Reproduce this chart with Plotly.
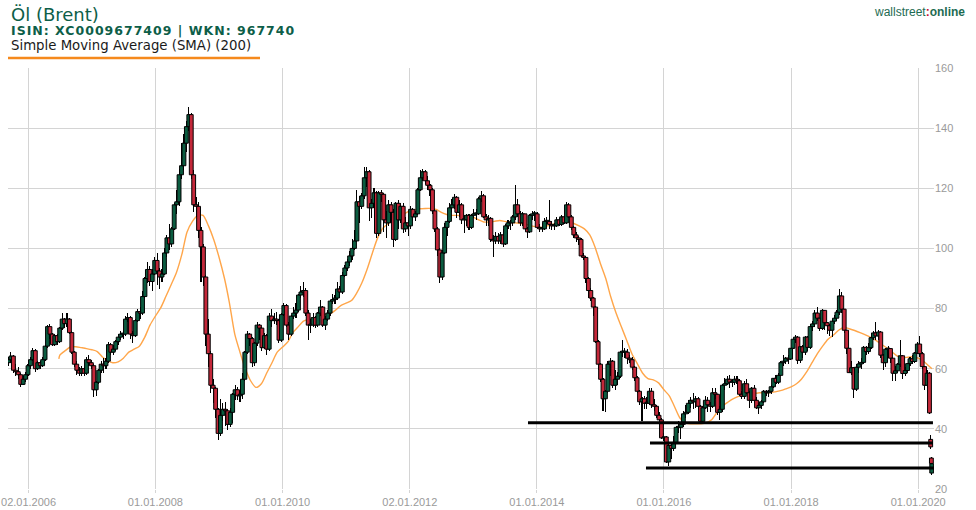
import pandas as pd
import plotly.graph_objects as go

# ---------------- data (Brent, 2-week candles, USD) ----------------
first_open = 62.0
candle_start = "2005-09-09"   # close date of the first 2-week candle

close_2005 = [63.0, 64.2, 59.5, 59.0, 58.0, 54.8, 56.5, 58.0, 61.0]
high_2005 = [64.0, 65.5, 64.5, 61.5, 60.5, 58.5, 57.5, 59.0, 61.5]
low_2005 = [61.0, 62.0, 58.5, 57.5, 56.5, 54.0, 54.5, 55.5, 57.5]

close_2006 = [63.0, 66.0, 60.0, 62.0, 61.0, 63.0, 67.5, 74.0, 71.5, 68.0, 71.0, 69.0, 73.5,
              76.5, 75.0, 76.5, 72.0, 65.5, 61.5, 59.5, 58.5, 60.0, 58.5, 63.0, 62.0, 61.0]
high_2006 = [64.0, 67.0, 66.5, 62.5, 62.5, 64.0, 68.0, 74.5, 75.0, 72.0, 71.5, 71.5, 74.0,
             78.5, 77.0, 78.5, 77.0, 72.5, 66.0, 62.5, 60.5, 61.0, 60.5, 64.0, 64.5, 63.0]
low_2006 = [60.0, 62.5, 59.0, 59.5, 60.0, 60.5, 62.5, 67.0, 70.0, 67.5, 67.5, 68.0, 68.5,
            73.0, 73.5, 74.0, 71.5, 65.0, 60.5, 58.0, 57.5, 57.5, 57.5, 58.0, 61.0, 60.0]

close_2007 = [53.0, 55.5, 59.5, 61.5, 61.0, 62.5, 68.0, 65.5, 66.5, 69.0, 70.5, 71.5, 71.5,
              76.5, 77.0, 71.5, 71.0, 76.0, 79.0, 78.5, 84.0, 90.0, 93.0, 89.0, 91.5, 96.0]
high_2007 = [61.5, 56.0, 60.0, 62.5, 63.5, 63.5, 69.0, 68.5, 68.0, 69.5, 71.5, 72.5, 72.5,
             77.5, 78.5, 77.5, 72.5, 76.5, 80.0, 80.5, 86.0, 90.5, 95.5, 94.0, 93.0, 97.0]
low_2007 = [50.5, 51.0, 55.0, 58.5, 58.5, 60.0, 62.0, 64.5, 64.5, 66.0, 68.0, 69.5, 70.0,
            71.0, 75.5, 70.0, 68.5, 70.5, 75.5, 76.5, 78.0, 83.5, 88.5, 87.5, 86.0, 91.0]

close_2008 = [92.5, 90.5, 91.5, 98.5, 103.5, 101.5, 106.5, 114.5, 115.5, 124.5, 127.5, 135.0, 140.5,
              144.5, 124.5, 114.5, 114.0, 106.0, 100.5, 90.5, 71.5, 65.0, 54.5, 53.5, 46.5, 38.5]
high_2008 = [98.5, 93.5, 93.0, 100.0, 104.5, 108.0, 107.0, 115.0, 119.5, 126.5, 135.0, 138.0, 142.5,
             147.0, 145.0, 126.0, 117.0, 115.5, 107.0, 101.5, 91.0, 76.5, 66.0, 56.5, 54.0, 47.0]
low_2008 = [88.0, 86.5, 89.0, 91.0, 97.0, 99.5, 100.5, 106.0, 111.5, 114.0, 123.0, 126.0, 132.0,
            139.0, 123.0, 112.0, 110.5, 103.5, 89.0, 87.5, 67.5, 60.5, 52.0, 48.5, 43.5, 36.2]

close_2009 = [44.5, 46.5, 46.0, 41.5, 45.5, 51.5, 53.0, 51.0, 51.5, 56.5, 65.5, 71.5, 70.0,
              62.0, 68.5, 74.5, 73.5, 67.0, 71.0, 66.5, 77.5, 76.0, 76.5, 76.0, 69.5, 78.0]
high_2009 = [50.0, 48.5, 49.0, 46.5, 47.0, 52.0, 54.5, 54.0, 52.5, 58.5, 66.0, 72.5, 72.0,
             70.5, 69.0, 75.5, 75.0, 74.0, 72.0, 71.5, 78.5, 80.0, 78.5, 79.0, 76.5, 78.5]
low_2009 = [37.5, 42.5, 41.0, 39.5, 40.5, 42.0, 49.5, 49.5, 49.0, 50.0, 56.0, 65.0, 67.5,
            60.5, 61.0, 67.5, 69.5, 66.0, 66.5, 64.5, 66.0, 74.0, 75.0, 74.5, 68.5, 69.0]

close_2010 = [81.0, 74.5, 71.5, 77.5, 78.5, 79.5, 84.5, 85.5, 86.0, 78.5, 74.5, 74.5, 77.0,
              74.5, 78.5, 80.5, 74.5, 76.5, 78.5, 82.5, 83.0, 83.5, 86.5, 85.5, 91.0, 93.5]
high_2010 = [82.0, 81.5, 75.5, 78.0, 80.5, 82.0, 85.0, 87.5, 89.0, 87.0, 79.5, 76.5, 78.5,
             77.5, 79.0, 83.0, 81.0, 77.5, 79.5, 83.0, 85.0, 84.5, 89.0, 87.5, 92.0, 94.5]
low_2010 = [77.5, 74.0, 69.5, 71.0, 76.5, 77.0, 79.0, 83.5, 84.0, 77.5, 69.5, 72.0, 74.0,
            73.5, 74.0, 77.5, 74.0, 73.0, 76.0, 77.5, 81.5, 81.5, 83.0, 83.5, 85.0, 90.5]

close_2011 = [95.5, 97.5, 100.0, 102.5, 115.5, 114.0, 117.5, 123.5, 125.5, 113.5, 115.0, 118.5, 105.0,
              118.5, 118.0, 109.5, 108.5, 114.5, 112.0, 103.0, 115.0, 109.5, 114.0, 106.5, 108.5, 107.5]
high_2011 = [96.5, 99.0, 103.0, 106.0, 119.5, 117.5, 118.5, 127.0, 127.0, 126.0, 116.5, 120.0, 119.0,
             119.0, 119.5, 118.5, 112.5, 116.0, 115.5, 113.0, 115.5, 116.0, 115.0, 115.0, 110.5, 109.5]
low_2011 = [92.5, 94.0, 96.0, 99.5, 102.0, 108.5, 113.0, 116.5, 120.5, 109.0, 110.0, 113.5, 103.5,
            104.0, 115.5, 105.5, 103.5, 107.5, 108.5, 100.5, 102.5, 106.5, 108.5, 105.0, 105.5, 104.0]

close_2012 = [113.0, 110.5, 111.5, 119.5, 123.5, 125.5, 122.5, 121.0, 119.5, 112.5, 106.5, 99.5, 90.5,
              98.5, 107.0, 109.0, 113.5, 114.5, 117.0, 112.0, 114.5, 109.5, 109.5, 111.0, 107.0, 111.0]
high_2012 = [114.0, 113.5, 112.5, 120.0, 126.0, 126.5, 126.0, 124.0, 121.5, 120.0, 113.0, 107.0, 100.0,
             99.5, 108.5, 109.5, 115.0, 116.5, 118.0, 117.5, 116.0, 115.0, 111.0, 111.5, 111.5, 111.5]
low_2012 = [106.5, 109.0, 109.0, 111.0, 119.0, 122.5, 121.5, 119.5, 117.5, 111.5, 105.5, 97.5, 88.5,
            89.5, 98.0, 104.0, 108.5, 112.0, 113.0, 110.0, 110.5, 108.0, 105.0, 107.5, 106.0, 106.5]

close_2013 = [111.5, 111.5, 116.5, 117.5, 110.5, 109.5, 110.0, 103.0, 102.5, 104.0, 102.5, 104.5, 101.5,
              107.5, 108.5, 108.5, 110.5, 114.5, 111.5, 108.5, 111.5, 106.5, 105.5, 111.0, 111.5, 111.5]
high_2013 = [113.0, 113.0, 117.0, 119.0, 118.0, 111.5, 111.0, 110.5, 104.5, 105.5, 105.0, 105.5, 106.5,
             108.0, 109.5, 109.5, 111.0, 121.0, 116.5, 112.5, 112.0, 111.5, 107.0, 111.5, 112.5, 112.5]
low_2013 = [110.0, 109.5, 111.0, 115.5, 110.0, 107.5, 107.5, 102.0, 97.0, 101.5, 101.5, 101.5, 100.5,
            101.0, 106.5, 106.0, 107.5, 109.5, 110.5, 107.5, 107.5, 106.0, 103.5, 105.0, 109.5, 109.0]

close_2014 = [107.0, 106.5, 106.5, 109.0, 109.0, 108.0, 107.5, 107.5, 109.5, 108.0, 110.5, 108.5, 114.5,
              110.5, 107.0, 104.5, 103.5, 103.0, 97.5, 97.0, 90.0, 86.0, 83.5, 80.5, 69.0, 61.5]
high_2014 = [112.0, 108.0, 108.5, 110.0, 110.5, 116.0, 109.0, 108.5, 110.5, 110.0, 111.0, 110.5, 115.5,
             115.0, 111.0, 107.5, 105.5, 104.0, 103.5, 98.5, 97.5, 90.5, 87.0, 84.0, 81.0, 69.5]
low_2014 = [106.5, 105.5, 105.5, 106.0, 108.0, 106.5, 106.0, 106.0, 107.0, 107.5, 107.5, 108.0, 108.0,
            110.0, 106.0, 103.5, 102.0, 101.0, 97.0, 96.0, 88.5, 83.5, 82.5, 77.5, 68.5, 59.5]

close_2015 = [56.5, 50.0, 52.5, 61.5, 62.5, 54.5, 56.5, 57.5, 65.5, 65.5, 65.5, 63.5, 63.0,
              60.5, 57.0, 52.5, 49.0, 50.0, 48.5, 48.5, 52.5, 48.0, 47.5, 44.5, 43.0, 37.0]
high_2015 = [62.0, 57.0, 53.0, 62.5, 63.5, 63.0, 59.5, 59.0, 66.0, 69.5, 67.0, 66.5, 64.5,
             64.0, 61.0, 57.5, 53.0, 50.5, 51.0, 50.5, 53.5, 53.5, 50.0, 48.0, 45.5, 43.5]
low_2015 = [55.5, 46.0, 45.5, 52.0, 57.5, 53.5, 53.0, 54.5, 57.0, 64.0, 63.5, 61.5, 62.0,
            59.5, 56.0, 52.0, 48.0, 42.5, 46.5, 46.5, 48.0, 47.0, 46.0, 43.5, 42.0, 36.5]

close_2016 = [37.3, 29.0, 34.5, 33.5, 35.5, 40.5, 40.5, 41.5, 45.0, 45.5, 48.5, 49.5, 49.0, 50.0,
              47.5, 42.5, 47.0, 49.5, 48.0, 47.5, 52.0, 51.5, 45.5, 46.5, 54.5, 55.0, 56.5]
high_2016 = [38.5, 37.5, 35.5, 35.5, 37.5, 41.0, 42.5, 42.0, 46.0, 48.0, 49.5, 50.5, 52.0, 51.0,
             50.5, 48.0, 47.5, 51.0, 50.5, 49.0, 53.5, 53.5, 51.5, 47.5, 55.0, 57.0, 57.5]
low_2016 = [36.0, 28.5, 27.8, 30.0, 32.5, 35.0, 38.5, 36.5, 40.5, 43.5, 45.0, 47.0, 46.5, 47.0,
            46.5, 41.5, 42.0, 46.5, 45.5, 45.5, 47.0, 50.0, 44.5, 43.0, 45.5, 53.0, 54.5]

close_2017 = [55.5, 55.5, 56.5, 56.0, 51.5, 50.8, 55.0, 52.0, 49.5, 53.5, 49.5, 47.0, 47.8,
              49.0, 52.5, 52.0, 52.5, 54.0, 56.8, 55.5, 57.8, 62.0, 62.5, 63.5, 63.2, 66.8]
high_2017 = [58.0, 56.5, 57.5, 57.5, 56.5, 52.5, 56.0, 56.5, 52.5, 54.0, 54.5, 50.5, 48.5,
             49.5, 52.8, 53.0, 53.0, 54.5, 57.0, 58.0, 58.5, 62.5, 64.5, 64.0, 64.5, 67.0]
low_2017 = [53.5, 54.0, 54.5, 55.0, 51.0, 50.0, 50.0, 51.5, 47.0, 48.5, 48.5, 46.5, 44.8,
            46.5, 48.5, 51.0, 50.5, 51.5, 53.5, 55.0, 55.0, 57.5, 61.0, 61.5, 61.5, 63.0]

close_2018 = [69.8, 70.5, 62.8, 67.3, 65.5, 70.5, 67.1, 74.0, 74.9, 78.5, 76.8, 73.4, 79.4,
              75.3, 74.3, 72.8, 75.8, 76.8, 78.8, 84.2, 79.8, 72.8, 66.8, 58.7, 60.3, 53.2]
high_2018 = [70.0, 71.3, 70.8, 67.6, 68.0, 71.0, 71.0, 74.8, 76.0, 79.5, 80.5, 77.0, 79.8,
             79.5, 75.5, 75.0, 76.2, 78.0, 79.5, 86.5, 85.5, 80.0, 73.0, 67.0, 62.5, 60.5]
low_2018 = [66.5, 68.5, 61.5, 62.0, 63.5, 64.5, 66.0, 66.5, 72.5, 74.0, 76.0, 72.5, 73.0,
            73.0, 71.5, 71.0, 70.5, 75.0, 76.0, 78.0, 78.5, 72.0, 65.0, 58.5, 58.0, 50.2]

close_2019 = [60.5, 61.6, 62.1, 67.1, 65.7, 67.0, 70.3, 71.9, 70.9, 72.2, 64.5, 62.0, 66.5,
              66.7, 63.5, 58.5, 59.3, 61.5, 64.3, 58.4, 59.4, 61.7, 63.3, 62.4, 65.2, 68.2]
high_2019 = [61.5, 62.5, 63.5, 67.5, 67.5, 68.5, 70.5, 72.5, 75.5, 73.0, 72.5, 65.0, 67.0,
             67.5, 67.0, 64.0, 61.0, 62.0, 69.5, 64.5, 60.5, 62.0, 63.8, 64.5, 65.5, 68.9]
low_2019 = [52.5, 58.5, 60.0, 61.5, 64.5, 65.0, 66.5, 69.5, 69.5, 69.5, 63.5, 59.5, 60.5,
            63.5, 62.0, 55.9, 56.0, 58.5, 60.5, 56.5, 57.5, 58.5, 61.0, 61.5, 61.8, 64.8]

close_2020 = [65.0, 60.7, 54.5, 58.5, 45.3]
high_2020 = [71.0, 65.5, 61.0, 59.5, 59.0]
low_2020 = [64.0, 60.0, 53.0, 53.5, 45.0]

# last sessions (March 2020, gap-down candles)
tail_dates = ["2020-03-13", "2020-03-17", "2020-03-19"]
tail_open = [36.5, 30.3, 25.3]
tail_high = [37.8, 30.8, 28.8]
tail_low = [33.3, 28.3, 24.6]
tail_close = [34.0, 28.5, 28.4]

# Simple Moving Average (200)
sma_dates = ["2006-06-25"] + [d.strftime("%Y-%m-%d") for d in pd.date_range("2006-07-01", "2020-03-01", freq="MS")] + ["2020-03-20"]
sma_values = [
    63.3,
    64.5, 66.0, 67.3, 67.3, 67.0, 66.7,
    66.3, 65.7, 64.0, 62.7, 62.0, 62.3, 63.5, 65.5, 66.5, 67.5, 70.5, 74.5,
    77.5, 80.3, 84.0, 88.0, 92.0, 98.0, 105.5, 109.0, 111.0, 111.0, 107.5, 103.0,
    97.0, 90.0, 82.0, 71.5, 65.5, 60.0, 56.0, 53.8, 55.0, 58.5, 62.0, 65.5,
    67.2, 69.0, 72.0, 74.0, 75.8, 76.5, 77.0, 77.5, 78.0, 78.3, 79.5, 81.0,
    81.8, 82.7, 85.0, 88.5, 93.0, 98.5, 103.5, 106.8, 108.3, 109.3, 110.3, 111.5,
    112.5, 112.8, 113.2, 113.3, 113.3, 113.0, 112.0, 111.3, 111.0, 111.0, 110.8, 110.5,
    110.3, 109.5, 108.8, 108.8, 109.0, 109.3, 109.0, 108.7, 108.5, 108.3, 108.0, 107.5,
    107.2, 107.0, 107.5, 108.0, 108.5, 108.7, 108.7, 108.3, 107.5, 106.5, 104.5, 100.5,
    95.0, 90.0, 84.0, 78.5, 74.0, 69.5, 65.0, 61.7, 58.5, 56.7, 56.3, 55.3,
    53.0, 51.0, 47.5, 43.7, 42.0, 41.7, 41.7, 41.7, 42.0, 43.0, 45.5, 47.5,
    48.8, 50.0, 50.7, 51.3, 51.7, 51.7, 52.0, 52.0, 52.0, 52.3, 52.7, 53.3,
    54.0, 55.0, 56.5, 59.0, 62.0, 65.0, 67.5, 69.8, 71.2, 72.8, 73.7, 73.3,
    72.7, 72.0, 71.3, 70.5, 69.5, 68.3, 67.0, 65.7, 64.3, 63.7, 63.8, 64.0,
    63.5, 62.5, 61.0,
    60.0,
]

# horizontal support lines drawn on the chart
support_levels = [42.0, 35.3, 27.0]
support_from = ["2013-11-11", "2015-10-13", "2015-09-20"]
support_to = ["2020-03-26", "2020-03-26", "2020-04-01"]

x_ticks = ["2006-01-02", "2008-01-01", "2010-01-01", "2012-01-02",
           "2014-01-01", "2016-01-01", "2018-01-01", "2020-01-01"]
x_ticktext = ["02.01.2006", "01.01.2008", "01.01.2010", "02.01.2012",
              "01.01.2014", "01.01.2016", "01.01.2018", "01.01.2020"]
y_ticks = [20, 40, 60, 80, 100, 120, 140, 160]

# ---------------- assemble ----------------
years = range(2005, 2021)
close = sum([globals()[f"close_{y}"] for y in years], [])
high = sum([globals()[f"high_{y}"] for y in years], [])
low = sum([globals()[f"low_{y}"] for y in years], [])
assert len(close) == len(high) == len(low), (len(close), len(high), len(low))
opens = [first_open] + close[:-1]
dates = list(pd.date_range(candle_start, periods=len(close), freq="14D"))

all_dates = dates + list(pd.to_datetime(tail_dates))
all_open = opens + tail_open
all_close = close + tail_close
all_high = [max(h, o, c) for h, o, c in zip(high + tail_high, all_open, all_close)]
all_low = [min(l, o, c) for l, o, c in zip(low + tail_low, all_open, all_close)]

GREEN = "#0b5c40"
RED = "#c4283a"
body_base = [min(o, c) for o, c in zip(all_open, all_close)]
body_len = [max(abs(c - o), 0.35) for o, c in zip(all_open, all_close)]
body_col = [GREEN if c >= o else RED for o, c in zip(all_open, all_close)]
wick_len = [h - l for h, l in zip(all_high, all_low)]

DAY_MS = 86400000
x_range = ["2005-09-06", "2020-04-01"]
y_range = [20, 160]

fig = go.Figure()
fig.add_trace(go.Scatter(
    x=sma_dates, y=sma_values, mode="lines",
    line=dict(color="#ffa64a", width=1.4, shape="spline", smoothing=0.7),
    hoverinfo="skip", xaxis="x", yaxis="y"))
fig.add_trace(go.Bar(
    x=all_dates, y=wick_len, base=all_low, width=6 * DAY_MS,
    marker=dict(color="#000000", line=dict(width=0)),
    hoverinfo="skip", xaxis="x2", yaxis="y2"))
fig.add_trace(go.Bar(
    x=all_dates, y=body_len, base=body_base, width=22 * DAY_MS,
    marker=dict(color=body_col, line=dict(color="#000000", width=1)),
    hoverinfo="skip", xaxis="x2", yaxis="y2"))
for lvl, s, e in zip(support_levels, support_from, support_to):
    fig.add_trace(go.Scatter(
        x=[s, e], y=[lvl, lvl], mode="lines",
        line=dict(color="#000000", width=3),
        hoverinfo="skip", xaxis="x2", yaxis="y2"))

L, R, T, B = 8, 42, 68, 21
W, H = 976, 510
PW, PH = W - L - R, H - T - B


def px2x(px):
    return (px - L) / PW


def px2y(py):
    return (H - B - py) / PH


GRID = "#d4d4d4"
fig.update_layout(
    width=W, height=H,
    margin=dict(l=L, r=R, t=T, b=B, pad=0, autoexpand=False),
    paper_bgcolor="white", plot_bgcolor="white",
    showlegend=False, barmode="overlay", bargap=0, hovermode=False,
    font=dict(family="Liberation Sans, Arial, sans-serif", size=11, color="#999999"),
    xaxis=dict(type="date", range=x_range, tickvals=x_ticks, ticktext=x_ticktext,
               showgrid=True, gridcolor=GRID, gridwidth=1, ticks="outside", ticklen=3,
               tickcolor=GRID, zeroline=False, showline=False, automargin=False,
               tickfont=dict(size=11, color="#9a9a9a")),
    yaxis=dict(range=y_range, tickvals=y_ticks, side="right", showgrid=True,
               gridcolor=GRID, gridwidth=1, zeroline=False, showline=False, ticks="",
               automargin=False, tickfont=dict(size=11, color="#9a9a9a")),
    xaxis2=dict(type="date", range=x_range, overlaying="x", visible=False, automargin=False),
    yaxis2=dict(range=y_range, overlaying="y", visible=False, automargin=False),
)

TITLE_GREEN = "#0d5e48"
fig.add_annotation(text="Öl (Brent)", xref="paper", yref="paper",
                   x=px2x(9), y=px2y(14), xanchor="left", yanchor="middle", showarrow=False,
                   font=dict(family="DejaVu Sans", size=18, color=TITLE_GREEN))
fig.add_annotation(text="<b><span style='letter-spacing:1px'>ISIN: XC0009677409 | WKN: 967740</span></b>",
                   xref="paper", yref="paper",
                   x=px2x(9), y=px2y(30.5), xanchor="left", yanchor="middle", showarrow=False,
                   font=dict(family="DejaVu Sans", size=12.5, color=TITLE_GREEN))
fig.add_annotation(text="Simple Moving Average (SMA) (200)", xref="paper", yref="paper",
                   x=px2x(9), y=px2y(45), xanchor="left", yanchor="middle", showarrow=False,
                   font=dict(family="DejaVu Sans", size=13.3, color="#1a1a1a"))
fig.add_annotation(text="wallstreet<span style='color:#c8102e'><b>:</b></span><b>online</b>",
                   xref="paper", yref="paper",
                   x=px2x(967), y=px2y(12), xanchor="right", yanchor="middle", showarrow=False,
                   font=dict(family="Liberation Sans, Arial", size=12, color="#1d6b52"))
fig.add_shape(type="line", xref="paper", yref="paper",
              x0=px2x(8), x1=px2x(260), y0=px2y(58), y1=px2y(58),
              line=dict(color="#f5891c", width=2.5))

fig.write_html("out.html", config={"displayModeBar": False, "staticPlot": True},
               post_script="document.body.style.margin='0px';document.body.style.overflow='hidden';")
